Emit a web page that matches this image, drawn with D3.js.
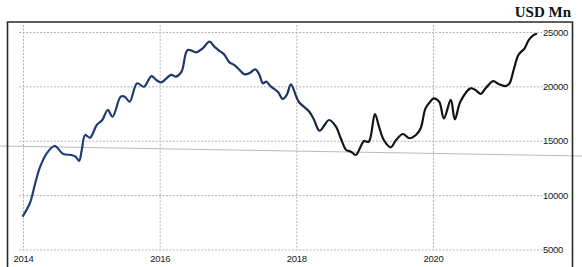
<!DOCTYPE html>
<html>
<head>
<meta charset="utf-8">
<script src="https://cdn.jsdelivr.net/npm/d3@7"></script>
<style>
  html, body { margin: 0; padding: 0; background: #fff; }
  svg { display: block; }
</style>
</head>
<body>
<svg class="chart"></svg>
<script>
// values (decimal year, USD Mn)
const years = [2014.0, 2014.10, 2014.18, 2014.25, 2014.35, 2014.46, 2014.49, 2014.59, 2014.71, 2014.77,
  2014.82, 2014.86, 2014.91, 2014.98, 2015.08, 2015.16, 2015.24, 2015.31, 2015.43, 2015.49,
  2015.56, 2015.67, 2015.77, 2015.88, 2015.95, 2016.02, 2016.17, 2016.24, 2016.32, 2016.41,
  2016.54, 2016.63, 2016.73, 2016.80, 2016.88, 2016.95, 2017.02, 2017.09, 2017.17, 2017.24,
  2017.31, 2017.40, 2017.46, 2017.51, 2017.56, 2017.63, 2017.73, 2017.80, 2017.86, 2017.92,
  2018.00, 2018.04, 2018.19, 2018.26, 2018.34, 2018.48, 2018.58, 2018.65, 2018.73, 2018.80,
  2018.87, 2018.94, 2018.99, 2019.06, 2019.15, 2019.21, 2019.28, 2019.38, 2019.46, 2019.56,
  2019.65, 2019.75, 2019.82, 2019.89, 2019.97, 2020.01, 2020.09, 2020.16, 2020.26, 2020.32,
  2020.40, 2020.55, 2020.62, 2020.70, 2020.77, 2020.88, 2020.96, 2021.06, 2021.12, 2021.18,
  2021.25, 2021.34, 2021.40, 2021.47, 2021.51]

const values = [8100, 9250, 11120, 12590, 13870, 14520, 14430, 13780, 13690, 13530,
  13140, 14150, 15530, 15280, 16450, 16910, 17830, 17210, 19050, 19050,
  18590, 20280, 19970, 20950, 20590, 20370, 21050, 20890, 21350, 23340,
  23130, 23500, 24110, 23650, 23250, 22890, 22210, 21970, 21510, 21110,
  21200, 21570, 21050, 20280, 20430, 19970, 19510, 18840, 19210, 20190,
  19050, 18540, 17670, 16910, 15920, 16910, 16290, 15230, 14150, 13990,
  13690, 14450, 14980, 14910, 17460, 16290, 15070, 14400, 15070, 15620,
  15230, 15530, 16150, 17980, 18680, 18900, 18590, 17060, 18750, 16970,
  18590, 19820, 19670, 19300, 19820, 20490, 20220, 20030, 20280, 21510,
  22890, 23500, 24260, 24720, 24820]

const yTicks = [5000, 10000, 15000, 20000, 25000]
const xTicks = [2014, 2016, 2018, 2020]
const unitLabel = "USD Mn"

const width = 582
const height = 267

const svg = d3.select(".chart")
    .attr("width", width)
    .attr("height", height)

const data = years.map((d, i) => ({ year: d, value: values[i] }))

const x = d3.scaleLinear()
    .domain([2014, 2020])
    .range([23, 433])

const y = d3.scaleLinear()
    .domain([5000, 25000])
    .range([249.5, 32])

// faint scanner streak across the page
svg.append("line")
    .attr("x1", 0).attr("y1", 146)
    .attr("x2", width).attr("y2", 156)
    .attr("stroke", "#a9a9a9")
    .attr("stroke-width", 0.8)

// horizontal grid + right labels
const yAxis = svg.append("g")
    .attr("transform", "translate(19,0)")
    .call(d3.axisRight(y)
        .tickValues(yTicks)
        .tickSize(526)
        .tickPadding(-2)
        .tickFormat(d3.format("d")))

yAxis.select(".domain").remove()
yAxis.selectAll("line")
    .attr("stroke", "#b4b4b4")
    .attr("stroke-dasharray", "2,1.5")
yAxis.selectAll("text")
    .attr("fill", "#1a1a1a")
    .style("font-family", "'Liberation Sans', Arial, sans-serif")
    .style("font-size", "9.5px")
    .style("letter-spacing", "-0.3px")

// vertical grid + bottom labels
const xAxis = svg.append("g")
    .attr("transform", "translate(0,25)")
    .call(d3.axisBottom(x)
        .tickValues(xTicks)
        .tickSize(225)
        .tickPadding(5)
        .tickFormat(d3.format("d")))

xAxis.select(".domain").remove()
xAxis.selectAll("line")
    .attr("stroke", "#b4b4b4")
    .attr("stroke-dasharray", "2,1.5")
xAxis.selectAll("text")
    .attr("fill", "#1a1a1a")
    .style("font-family", "'Liberation Sans', Arial, sans-serif")
    .style("font-size", "9.5px")
    .style("letter-spacing", "-0.3px")

// line colour goes from navy to near black (as in the print)
const grad = svg.append("defs").append("linearGradient")
    .attr("id", "lineGrad")
    .attr("gradientUnits", "userSpaceOnUse")
    .attr("x1", x(2014)).attr("x2", x(2021.5))
    .attr("y1", 0).attr("y2", 0)
grad.append("stop").attr("offset", "0%").attr("stop-color", "#203f7c")
grad.append("stop").attr("offset", "52%").attr("stop-color", "#1f3466")
grad.append("stop").attr("offset", "62%").attr("stop-color", "#15151c")
grad.append("stop").attr("offset", "100%").attr("stop-color", "#111")

const line = d3.line()
    .x(d => x(d.year))
    .y(d => y(d.value))
    .curve(d3.curveCatmullRom.alpha(0.5))

svg.append("path")
    .datum(data)
    .attr("d", line)
    .attr("fill", "none")
    .attr("stroke", "url(#lineGrad)")
    .attr("stroke-width", 2.2)
    .attr("stroke-linejoin", "round")
    .attr("stroke-linecap", "round")

// frame (bottom edge runs off the picture)
svg.append("path")
    .attr("d", "M7.5," + (height + 5) + "V22H572.5V" + (height + 5))
    .attr("fill", "none")
    .attr("stroke", "#2a2a2a")
    .attr("stroke-width", 1.6)

svg.append("text")
    .attr("x", 571)
    .attr("y", 17)
    .attr("text-anchor", "end")
    .style("font-family", "'Liberation Serif', 'Times New Roman', serif")
    .style("font-weight", "bold")
    .style("font-size", "15px")
    .attr("fill", "#111")
    .text(unitLabel)
</script>
</body>
</html>
